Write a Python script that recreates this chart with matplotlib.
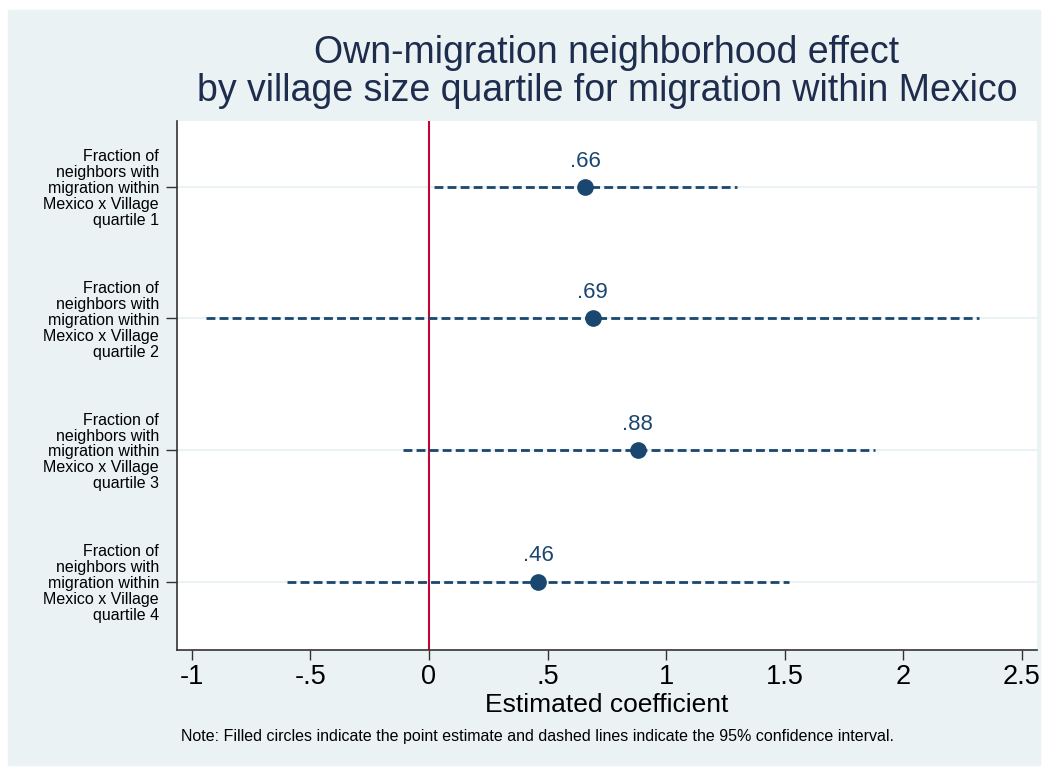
import matplotlib.pyplot as plt
import numpy as np

plt.rcParams['font.family'] = ['Liberation Sans', 'DejaVu Sans']

labels = ["Fraction of\nneighbors with\nmigration within\nMexico x Village\nquartile %d" % q for q in range(1, 5)]
estimates = [0.66, 0.69, 0.88, 0.46]
ci_low = [0.02, -0.94, -0.11, -0.60]
ci_high = [1.30, 2.32, 1.88, 1.52]
value_labels = [".66", ".69", ".88", ".46"]
xticks = [-1, -0.5, 0, 0.5, 1, 1.5, 2, 2.5]
xticklabels = ["-1", "-.5", "0", ".5", "1", "1.5", "2", "2.5"]

navy = "#1A476F"
bg = "#EAF2F3"

fig = plt.figure(figsize=(10.48, 7.71), dpi=100)
fig.patches.append(plt.Rectangle((8 / 1048, 6 / 771), 1032 / 1048, 755 / 771,
                                 transform=fig.transFigure, color=bg, zorder=-1))
ax = fig.add_axes([177 / 1048, 121 / 771, 860 / 1048, 529 / 771])
ax.set_facecolor("white")

y = np.arange(1, len(estimates) + 1)
for yi in y:
    ax.axhline(yi, color=bg, lw=1.5, zorder=0)
ax.axvline(0, color="#C10534", lw=1.5, zorder=1)

ax.hlines(y, ci_low, ci_high, colors=navy, linestyles=(0, (3.2, 1.5)), lw=2, zorder=2)
ax.plot(estimates, y, "o", color=navy, ms=11, zorder=3)
for xi, yi, t in zip(estimates, y, value_labels):
    ax.annotate(t, (xi, yi), xytext=(0, 11), textcoords="offset points",
                ha="center", va="bottom", color=navy, fontsize=16)

ax.set_xlim(-1.063, 2.565)
ax.set_ylim(4.52, 0.5)
ax.set_yticks(y)
ax.set_yticklabels(labels, fontsize=11.5, linespacing=1.08)
ax.set_xticks(xticks)
ax.set_xticklabels(xticklabels, fontsize=19.5)
ax.set_xlabel("Estimated coefficient", fontsize=19, labelpad=2)
ax.tick_params(axis="x", length=7, width=1, color="#333333", pad=3)
ax.tick_params(axis="y", length=8, width=1, color="#333333", pad=5)
for s in ["top", "right"]:
    ax.spines[s].set_visible(False)
for s in ["left", "bottom"]:
    ax.spines[s].set_color("#333333")
    ax.spines[s].set_linewidth(1.2)

fig.text(607 / 1048, 1 - 72 / 771,
         "Own-migration neighborhood effect\nby village size quartile for migration within Mexico",
         ha="center", va="center", fontsize=27, color="#1E2C4E", linespacing=1.1)
fig.text(181 / 1048, 1 - 736 / 771,
         "Note: Filled circles indicate the point estimate and dashed lines indicate the 95% confidence interval.",
         ha="left", va="center", fontsize=11.5)

fig.savefig("out.png", dpi=100)
